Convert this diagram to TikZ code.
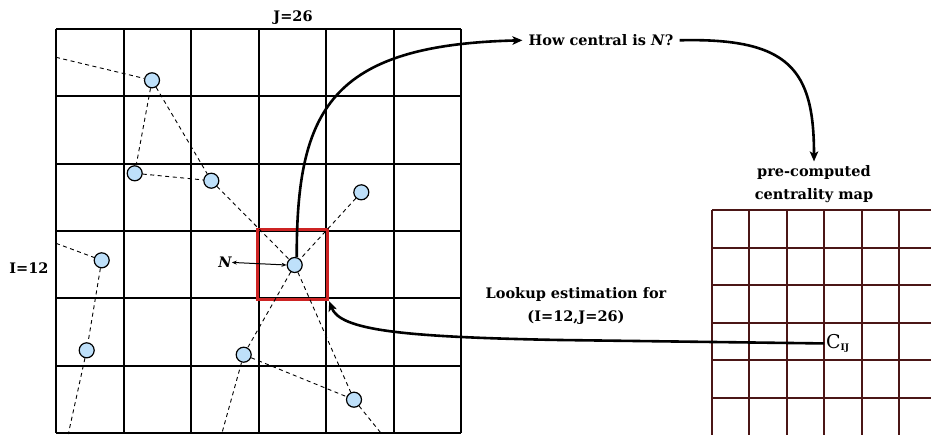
\documentclass[tikz,border=0pt]{standalone}
\usepackage{fontspec}
\setmainfont{DejaVu Serif}
\usetikzlibrary{arrows.meta}
\pgfdeclarelayer{mid}
\pgfsetlayers{mid,main}
\definecolor{vfill}{RGB}{190,224,250}
\definecolor{cellred}{RGB}{205,35,35}
\definecolor{mapcol}{RGB}{75,22,22}
\tikzset{
  gridline/.style={line width=1.8pt, draw=black},
  mapline/.style={line width=1.8pt, draw=mapcol},
  vtx/.style={circle, draw=black, line width=1.2pt, fill=vfill, minimum size=15pt, inner sep=0pt},
  dashedge/.style={line width=0.9pt, dash pattern=on 4pt off 3.5pt},
  bigarrow/.style={line width=2.6pt, -{Stealth[length=10pt,width=8.5pt,inset=2.5pt]}},
  smallarrow/.style={line width=1pt, {Stealth[length=5pt,width=4pt]}-{Stealth[length=5pt,width=4pt]}},
  lbl/.style={font=\bfseries\fontsize{14.5}{22.5}\selectfont, align=center, inner sep=0pt},
}
\begin{document}
\begin{tikzpicture}[x=1pt,y=-1pt]
\useasboundingbox (0,0) rectangle (931,434);
\begin{scope}
\clip (0,0) rectangle (931,434);

% vertices
\node[vtx] (A) at (152,80.3) {};
\node[vtx] (B) at (134.7,173.3) {};
\node[vtx] (C) at (211.3,180.7) {};
\node[vtx] (D) at (361.3,192.3) {};
\node[vtx] (N) at (294.7,265) {};
\node[vtx] (E) at (101.7,260.3) {};
\node[vtx] (F) at (86.7,350.3) {};
\node[vtx] (G) at (243.7,354.7) {};
\node[vtx] (H) at (354,399.7) {};

\coordinate (pA) at (56,57.3);
\coordinate (pE) at (56,243.3);
\coordinate (pF) at (68.3,434);
\coordinate (pG) at (221.7,434);
\coordinate (pH) at (381.7,434);

% grids, highlighted cell and dashed graph
\begin{pgfonlayer}{mid}
\foreach \x in {56,124,191,259,326,394,461}
  \draw[gridline] (\x,29) -- (\x,433);
\foreach \y in {29,96,164,231,298,366,433}
  \draw[gridline] (56,\y) -- (461,\y);
\foreach \x in {712,749,787,824,862,899}
  \draw[mapline] (\x,210) -- (\x,440);
\foreach \y in {210,248,285,323,360,398}
  \draw[mapline] (712,\y) -- (940,\y);
\node[draw=cellred, line width=2.8pt, minimum width=70.6pt, minimum height=70.6pt, inner sep=0pt] (cell) at (292.5,264.5) {};
\draw[dashedge] (pA) -- (A);
\draw[dashedge] (A) -- (B);
\draw[dashedge] (A) -- (C);
\draw[dashedge] (B) -- (C);
\draw[dashedge] (C) -- (N);
\draw[dashedge] (D) -- (N);
\draw[dashedge] (N) -- (G);
\draw[dashedge] (N) -- (H);
\draw[dashedge] (G) -- (H);
\draw[dashedge] (G) -- (pG);
\draw[dashedge] (H) -- (pH);
\draw[dashedge] (pE) -- (E);
\draw[dashedge] (E) -- (F);
\draw[dashedge] (F) -- (pF);
\end{pgfonlayer}

% labels
\node[lbl, anchor=base] (jlab) at (293,21.5) {J=26};
\node[lbl, anchor=base] (ilab) at (29,273.3) {I=12};
\node[lbl, anchor=base, font=\bfseries\itshape\fontsize{14.5}{17}\selectfont] (nlab) at (225,267.7) {N};
\node[lbl, anchor=base, inner xsep=6pt] (q) at (601,45.7) {How central is \textit{N}?};
\node[lbl, inner ysep=4pt] (pc) at (814,184) {pre-computed\\centrality map};
\node[lbl] (look) at (576,306) {Lookup estimation for\\(I=12,J=26)};
\node[anchor=base west, inner sep=2pt] (cij) at (824,348.3)
  {{\fontsize{19}{19}\selectfont C}\raisebox{-2.5pt}{\bfseries\fontsize{9}{9}\selectfont IJ}};

% connectors
\draw[smallarrow] (nlab.east) -- (N.west);
\draw[bigarrow] ([xshift=2pt]N.north) .. controls (296.7,110) and (330,45) .. (q.west);
\draw[bigarrow] (q.east) .. controls (790,37.5) and (814,70) .. (pc.north);
\draw[bigarrow] (cij.west) -- (560,340) .. controls (400,337) and (340,330) .. (cell.south east);
\end{scope}
\end{tikzpicture}
\end{document}
